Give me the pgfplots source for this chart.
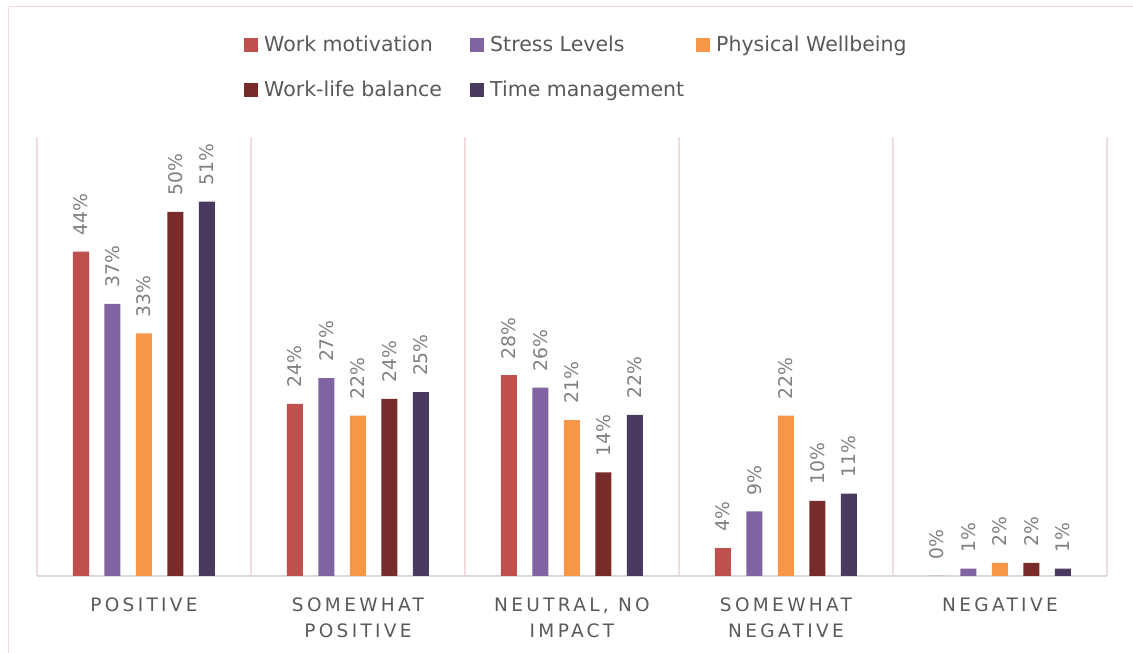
\documentclass[border=0pt]{standalone}
\usepackage{pgfplots}
\pgfplotsset{compat=1.18}
\usepackage{fontspec}
\setmainfont{DejaVu Sans}
\newfontfamily\catfont[LetterSpace=18]{DejaVu Sans}
\definecolor{c_motiv}{HTML}{C0504D}
\definecolor{c_stress}{HTML}{8064A2}
\definecolor{c_phys}{HTML}{F79646}
\definecolor{c_wlb}{HTML}{772C2A}
\definecolor{c_time}{HTML}{4B3A60}
\definecolor{gridpink}{HTML}{F2DCDB}
\definecolor{axisgray}{HTML}{D9D9D9}
\definecolor{labelgray}{HTML}{808080}
\definecolor{textgray}{HTML}{595959}

\begin{document}
\begin{tikzpicture}
\useasboundingbox (0,0) rectangle (1133pt,653pt);
% outer frame (only left and top edges are visible)
\draw[gridpink, line width=1.5pt] (8.5pt,0) -- (8.5pt,646.5pt) -- (1133pt,646.5pt);

\begin{axis}[
    at={(37pt,77pt)}, anchor=south west,
    scale only axis,
    width=1070pt, height=439pt,
    xmin=-0.5, xmax=4.5,
    ymin=0, ymax=59.7,
    axis y line=none,
    axis x line*=bottom,
    x axis line style={draw=axisgray, line width=1.5pt},
    ybar,
    bar width=0.0748,
    xtick={0,1,2,3,4},
    xticklabels={POSITIVE, {SOMEWHAT\\POSITIVE}, {NEUTRAL, NO\\IMPACT}, {SOMEWHAT\\NEGATIVE}, NEGATIVE},
    xticklabel style={font=\catfont\fontsize{18.5}{26}\selectfont, text=textgray, align=center, yshift=-18pt},
    major tick length=0pt,
    minor tick length=0pt,
    minor xtick={-0.5,0.5,1.5,2.5,3.5,4.5},
    xminorgrids=true,
    minor x grid style={draw=gridpink, line width=1.5pt},
    point meta=explicit symbolic,
    nodes near coords={\pgfplotspointmeta\%},
    every node near coord/.append style={rotate=90, anchor=west, inner xsep=16pt,
        font=\fontsize{18.8}{20}\selectfont, text=labelgray},
    legend columns=3,
    legend cell align=left,
    legend image code/.code={\fill[#1] (0pt,-7pt) rectangle (14pt,7pt);},
    legend style={draw=none, fill=none, inner sep=0pt, column sep=0pt, row sep=28pt,
        nodes={inner sep=0pt, text=textgray, font=\fontsize{20.5}{24}\selectfont},
        at={(0.1935,1.230)}, anchor=north west},
]

%% Work motivation
\addplot[fill=c_motiv, draw=none, bar shift=-0.2944]
coordinates {(0,44.1) [44] (1,23.4) [24] (2,27.3) [28] (3,3.8) [4] (4,0) [0]};
\addlegendentry{\hspace{6pt}\makebox[206pt][l]{Work motivation}}

%% Stress Levels
\addplot[fill=c_stress, draw=none, bar shift=-0.1472]
coordinates {(0,37.0) [37] (1,26.9) [27] (2,25.6) [26] (3,8.8) [9] (4,1.0) [1]};
\addlegendentry{\hspace{6pt}\makebox[206pt][l]{Stress Levels}}

%% Physical Wellbeing
\addplot[fill=c_phys, draw=none, bar shift=0]
coordinates {(0,33.0) [33] (1,21.8) [22] (2,21.2) [21] (3,21.8) [22] (4,1.8) [2]};
\addlegendentry{\hspace{6pt}\makebox[206pt][l]{Physical Wellbeing}}

%% Work-life balance
\addplot[fill=c_wlb, draw=none, bar shift=0.1472]
coordinates {(0,49.5) [50] (1,24.1) [24] (2,14.1) [14] (3,10.2) [10] (4,1.8) [2]};
\addlegendentry{\hspace{6pt}\makebox[206pt][l]{Work-life balance}}

%% Time management
\addplot[fill=c_time, draw=none, bar shift=0.2944]
coordinates {(0,50.9) [51] (1,25.0) [25] (2,21.9) [22] (3,11.2) [11] (4,1.0) [1]};
\addlegendentry{\hspace{6pt}\makebox[206pt][l]{Time management}}

\end{axis}
\end{tikzpicture}
\end{document}
